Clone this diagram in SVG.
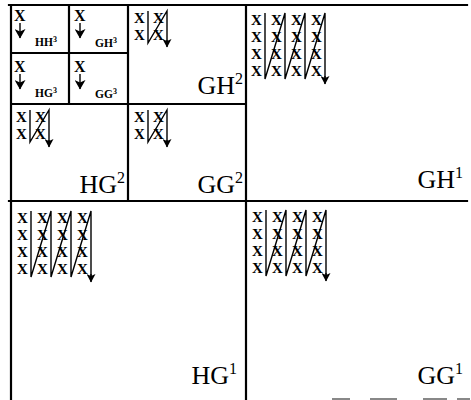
<svg xmlns="http://www.w3.org/2000/svg" width="471" height="400" viewBox="0 0 471 400">
<defs>
<style>
.grid{stroke:#000;stroke-width:2.2;fill:none;stroke-linecap:square}
.zig{stroke:#000;stroke-width:1.4;fill:none;stroke-linejoin:miter}
.x{font-family:"Liberation Serif",serif;font-weight:bold;font-size:15px;fill:#000}
.xs{font-family:"Liberation Serif",serif;font-weight:bold;font-size:16px;fill:#000}
.sl{font-family:"Liberation Serif",serif;font-weight:bold;font-size:11.5px;fill:#000}
.bl{font-family:"Liberation Serif",serif;font-size:26px;fill:#000;text-anchor:end}
</style>
<marker id="ah2" markerUnits="userSpaceOnUse" markerWidth="9" markerHeight="10" refX="4.5" refY="9" orient="0" viewBox="0 0 9 10">
<path d="M0,1 L4.5,3 L9,1 L4.5,9.5 z" fill="#000"/>
</marker>
<marker id="ah3" markerUnits="userSpaceOnUse" markerWidth="11" markerHeight="11" refX="5.5" refY="10" orient="0" viewBox="0 0 11 11">
<path d="M0,1 L5.5,3.5 L11,1 L5.5,10.5 z" fill="#000"/>
</marker>
</defs>
<rect width="471" height="400" fill="#fff"/>

<g id="connectors">
<path class="zig" d="M20,23 V38" stroke-width="1.8" marker-end="url(#ah3)"/>
<path class="zig" d="M80,23 V38" stroke-width="1.8" marker-end="url(#ah3)"/>
<path class="zig" d="M20,74 V89" stroke-width="1.8" marker-end="url(#ah3)"/>
<path class="zig" d="M80,74 V89" stroke-width="1.8" marker-end="url(#ah3)"/>
<polyline class="zig" points="148,11 148,43 167,11 167,44"/>
<path class="zig" d="M167,40 V47" marker-end="url(#ah2)"/>
<polyline class="zig" points="30,110 30,142 49,110 49,143"/>
<path class="zig" d="M49,140 V147" marker-end="url(#ah2)"/>
<polyline class="zig" points="148,110 148,142 167,110 167,143"/>
<path class="zig" d="M167,140 V147" marker-end="url(#ah2)"/>
<polyline class="zig" points="265,13 265,79 285,13 285,79 305,13 305,79 325,13 325,80"/>
<path class="zig" d="M325,76 V84" marker-end="url(#ah2)"/>
<polyline class="zig" points="31,211 31,277 51,211 51,277 71,211 71,277 91,211 91,278"/>
<path class="zig" d="M91,274 V282" marker-end="url(#ah2)"/>
<polyline class="zig" points="266,210 266,276 286,210 286,276 306,210 306,276 326,210 326,277"/>
<path class="zig" d="M326,273 V281" marker-end="url(#ah2)"/>
</g>

<g id="grid">
<path class="grid" d="M9,5 H467 M11,5 V400 M246,5 V400 M9,201 H467 M128,5 V201 M11,104 H246 M69,5 V104 M11,53 H128"/>
<path d="M332,399 H350 M370,399 H397 M423,399 H447 M457,399 H470" stroke="#888" stroke-width="2"/>
</g>

<g id="HH3">
<text class="xs" x="14" y="21">X</text>
<text class="sl" x="35" y="46">HH<tspan font-size="8" dy="-4">3</tspan></text>
</g>
<g id="GH3">
<text class="xs" x="74" y="21">X</text>
<text class="sl" x="95" y="47">GH<tspan font-size="8" dy="-4">3</tspan></text>
</g>
<g id="HG3">
<text class="xs" x="14" y="72">X</text>
<text class="sl" x="35" y="97">HG<tspan font-size="8" dy="-4">3</tspan></text>
</g>
<g id="GG3">
<text class="xs" x="74" y="72">X</text>
<text class="sl" x="95" y="98">GG<tspan font-size="8" dy="-4">3</tspan></text>
</g>

<g id="GH2">
<text class="x" x="134" y="23">X</text><text class="x" x="153" y="23">X</text>
<text class="x" x="134" y="40">X</text><text class="x" x="153" y="40">X</text>
<text class="bl" x="243" y="94">GH<tspan font-size="16" dy="-10">2</tspan></text>
</g>
<g id="HG2">
<text class="x" x="16" y="122">X</text><text class="x" x="35" y="122">X</text>
<text class="x" x="16" y="139">X</text><text class="x" x="35" y="139">X</text>
<text class="bl" x="125" y="193">HG<tspan font-size="16" dy="-10">2</tspan></text>
</g>
<g id="GG2">
<text class="x" x="134" y="122">X</text><text class="x" x="153" y="122">X</text>
<text class="x" x="134" y="139">X</text><text class="x" x="153" y="139">X</text>
<text class="bl" x="243" y="193">GG<tspan font-size="16" dy="-10">2</tspan></text>
</g>

<g id="GH1">
<text class="x" x="251" y="25">X</text><text class="x" x="271" y="25">X</text><text class="x" x="291" y="25">X</text><text class="x" x="311" y="25">X</text>
<text class="x" x="251" y="42">X</text><text class="x" x="271" y="42">X</text><text class="x" x="291" y="42">X</text><text class="x" x="311" y="42">X</text>
<text class="x" x="251" y="59">X</text><text class="x" x="271" y="59">X</text><text class="x" x="291" y="59">X</text><text class="x" x="311" y="59">X</text>
<text class="x" x="251" y="76">X</text><text class="x" x="271" y="76">X</text><text class="x" x="291" y="76">X</text><text class="x" x="311" y="76">X</text>
<text class="bl" x="463" y="188">GH<tspan font-size="16" dy="-10">1</tspan></text>
</g>
<g id="HG1">
<text class="x" x="17" y="223">X</text><text class="x" x="37" y="223">X</text><text class="x" x="57" y="223">X</text><text class="x" x="77" y="223">X</text>
<text class="x" x="17" y="240">X</text><text class="x" x="37" y="240">X</text><text class="x" x="57" y="240">X</text><text class="x" x="77" y="240">X</text>
<text class="x" x="17" y="257">X</text><text class="x" x="37" y="257">X</text><text class="x" x="57" y="257">X</text><text class="x" x="77" y="257">X</text>
<text class="x" x="17" y="274">X</text><text class="x" x="37" y="274">X</text><text class="x" x="57" y="274">X</text><text class="x" x="77" y="274">X</text>
<text class="bl" x="237" y="384">HG<tspan font-size="16" dy="-10">1</tspan></text>
</g>
<g id="GG1">
<text class="x" x="252" y="222">X</text><text class="x" x="272" y="222">X</text><text class="x" x="292" y="222">X</text><text class="x" x="312" y="222">X</text>
<text class="x" x="252" y="239">X</text><text class="x" x="272" y="239">X</text><text class="x" x="292" y="239">X</text><text class="x" x="312" y="239">X</text>
<text class="x" x="252" y="256">X</text><text class="x" x="272" y="256">X</text><text class="x" x="292" y="256">X</text><text class="x" x="312" y="256">X</text>
<text class="x" x="252" y="273">X</text><text class="x" x="272" y="273">X</text><text class="x" x="292" y="273">X</text><text class="x" x="312" y="273">X</text>
<text class="bl" x="463" y="384">GG<tspan font-size="16" dy="-10">1</tspan></text>
</g>
</svg>
